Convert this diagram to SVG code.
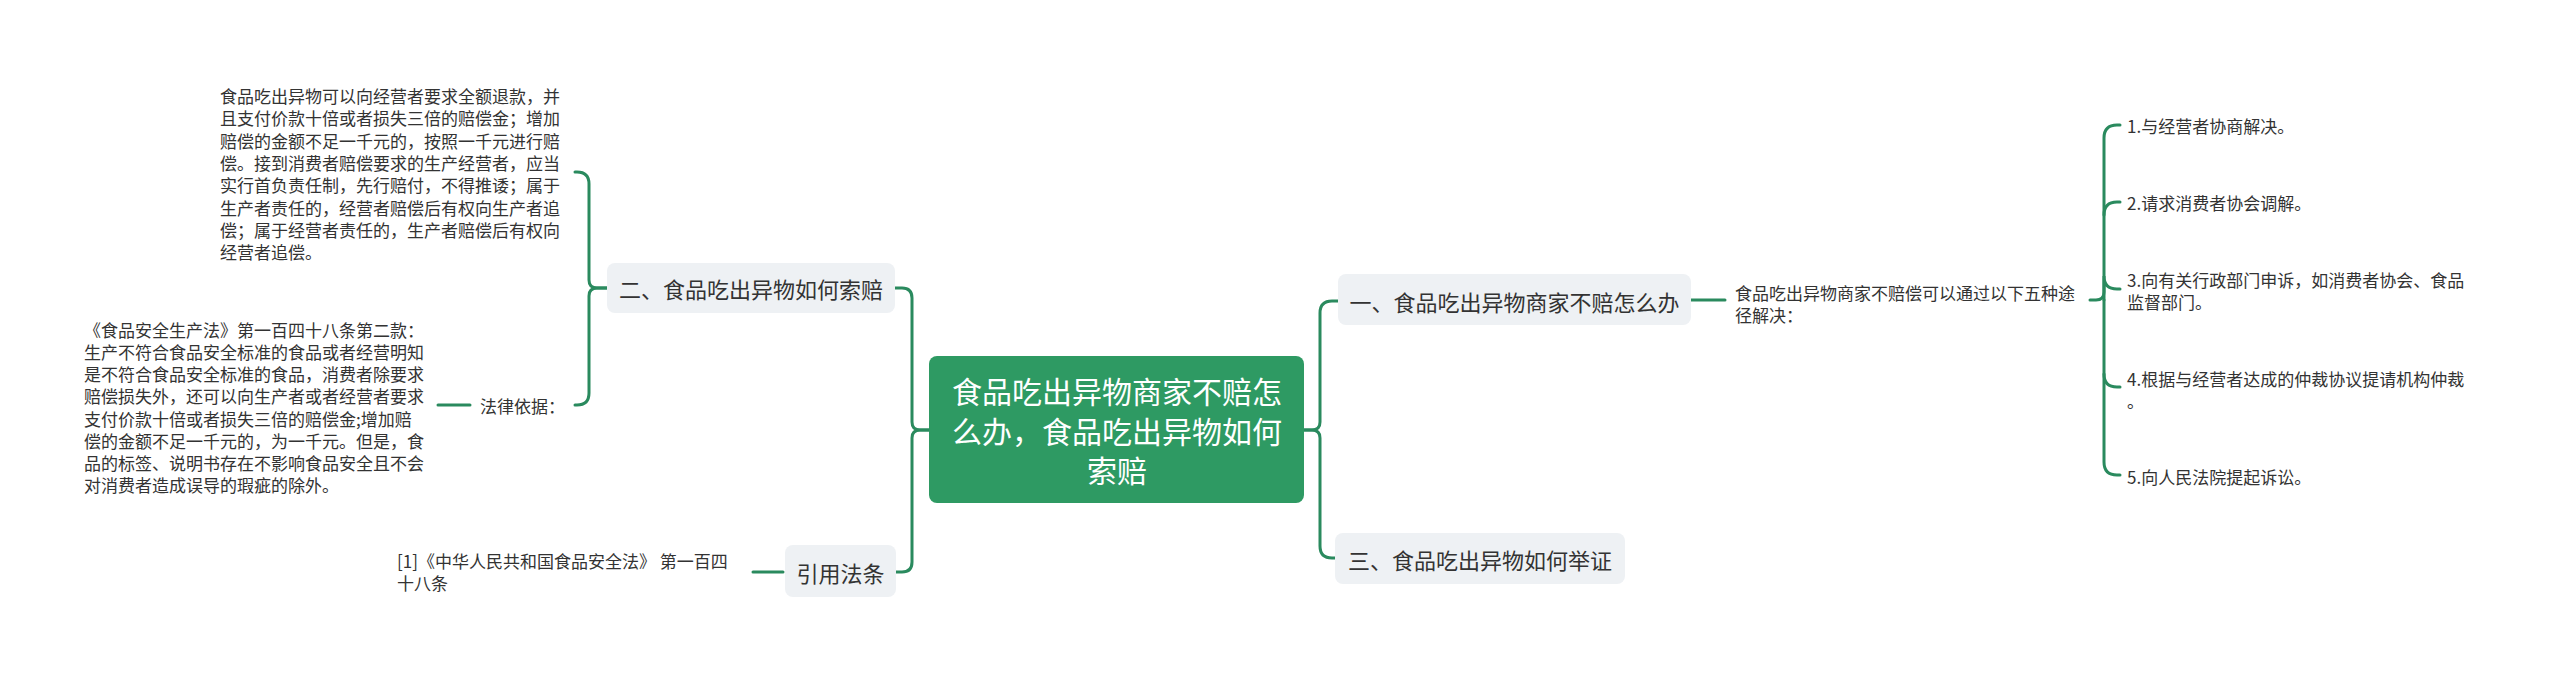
<svg xmlns="http://www.w3.org/2000/svg" width="2560" height="676" viewBox="0 0 2560 676">
<style>
text{font-family:"Microsoft YaHei","Noto Sans CJK SC","Noto Sans",sans-serif;fill:#333;dominant-baseline:central}
.t17{font-size:17px}
.t22{font-size:22px}
.root{font-size:30px;fill:#fff;text-anchor:middle}
.mid{text-anchor:middle}
.box{fill:#eef1f4}
.conn path{fill:none;stroke:#2a8a5e;stroke-width:3;stroke-linecap:round}
</style>
<rect width="2560" height="676" fill="#fff"/>
<g class="conn" id="connectors">
<path d="M929,430 H920 Q912,430 912,422 V298 Q912,288 902,288 H895"/>
<path d="M929,430 H920 Q912,430 912,438 V562 Q912,572 902,572 H896"/>
<path d="M607,288 H597 Q589,288 589,280 V184 Q589,172 577,172 H575"/>
<path d="M607,288 H597 Q589,288 589,296 V393 Q589,405 577,405 H575"/>
<path d="M470,405 H438"/>
<path d="M783,572 H753"/>
<path d="M1304,430 H1312 Q1320,430 1320,422 V313 Q1320,301 1332,301 H1338"/>
<path d="M1304,430 H1312 Q1320,430 1320,438 V546 Q1320,558 1332,558 H1335"/>
<path d="M1691,300 H1725"/>
<path d="M2090,300 H2096 Q2104,300 2104,292 V138 Q2104,125 2117,125 H2120"/>
<path d="M2104,215 Q2104,202 2117,202 H2120"/>
<path d="M2104,300 V276 Q2104,289 2117,289 H2120"/>
<path d="M2104,300 V462 Q2104,475 2117,475 H2120"/>
<path d="M2104,374 Q2104,387 2117,387 H2120"/>
</g>
<g id="root">
<rect x="929" y="356" width="375" height="147" rx="8" fill="#2e9a63"/>
<text class="root"><tspan x="1117" y="390">食品吃出异物商家不赔怎</tspan><tspan x="1117" y="430">么办，食品吃出异物如何</tspan><tspan x="1117" y="469">索赔</tspan></text>
</g>
<g id="n2">
<rect class="box" x="607" y="263" width="288" height="50" rx="8"/>
<text class="t22 mid" x="751" y="288">二、食品吃出异物如何索赔</text>
</g>
<g id="n2a">
<text class="t17"><tspan x="220" y="95">食品吃出异物可以向经营者要求全额退款，并</tspan><tspan x="220" y="117.3">且支付价款十倍或者损失三倍的赔偿金；增加</tspan><tspan x="220" y="139.6">赔偿的金额不足一千元的，按照一千元进行赔</tspan><tspan x="220" y="161.9">偿。接到消费者赔偿要求的生产经营者，应当</tspan><tspan x="220" y="184.2">实行首负责任制，先行赔付，不得推诿；属于</tspan><tspan x="220" y="206.5">生产者责任的，经营者赔偿后有权向生产者追</tspan><tspan x="220" y="228.8">偿；属于经营者责任的，生产者赔偿后有权向</tspan><tspan x="220" y="251.1">经营者追偿。</tspan></text>
</g>
<g id="n2b">
<text class="t17" x="480" y="405">法律依据：</text>
</g>
<g id="n2b1">
<text class="t17"><tspan x="84" y="329">《食品安全生产法》第一百四十八条第二款：</tspan><tspan x="84" y="351">生产不符合食品安全标准的食品或者经营明知</tspan><tspan x="84" y="373">是不符合食品安全标准的食品，消费者除要求</tspan><tspan x="84" y="395">赔偿损失外，还可以向生产者或者经营者要求</tspan><tspan x="84" y="418">支付价款十倍或者损失三倍的赔偿金;增加赔</tspan><tspan x="84" y="440">偿的金额不足一千元的，为一千元。但是，食</tspan><tspan x="84" y="462">品的标签、说明书存在不影响食品安全且不会</tspan><tspan x="84" y="484">对消费者造成误导的瑕疵的除外。</tspan></text>
</g>
<g id="n3">
<rect class="box" x="785" y="545" width="111" height="52" rx="8"/>
<text class="t22 mid" x="840.5" y="572">引用法条</text>
</g>
<g id="n3a">
<text class="t17"><tspan x="397" y="560">[1]《中华人民共和国食品安全法》 第一百四</tspan><tspan x="397" y="582">十八条</tspan></text>
</g>
<g id="n1">
<rect class="box" x="1338" y="274" width="353" height="51" rx="8"/>
<text class="t22 mid" x="1514.5" y="301">一、食品吃出异物商家不赔怎么办</text>
</g>
<g id="n1a">
<text class="t17"><tspan x="1735" y="292">食品吃出异物商家不赔偿可以通过以下五种途</tspan><tspan x="1735" y="314">径解决：</tspan></text>
</g>
<g id="i1"><text class="t17" x="2127" y="125">1.与经营者协商解决。</text></g>
<g id="i2"><text class="t17" x="2127" y="202">2.请求消费者协会调解。</text></g>
<g id="i3"><text class="t17"><tspan x="2127" y="279">3.向有关行政部门申诉，如消费者协会、食品</tspan><tspan x="2127" y="301">监督部门。</tspan></text></g>
<g id="i4"><text class="t17"><tspan x="2127" y="378">4.根据与经营者达成的仲裁协议提请机构仲裁</tspan><tspan x="2127" y="400">。</tspan></text></g>
<g id="i5"><text class="t17" x="2127" y="476">5.向人民法院提起诉讼。</text></g>
<g id="n4">
<rect class="box" x="1335" y="533" width="290" height="51" rx="8"/>
<text class="t22 mid" x="1480" y="558.5">三、食品吃出异物如何举证</text>
</g>
</svg>
